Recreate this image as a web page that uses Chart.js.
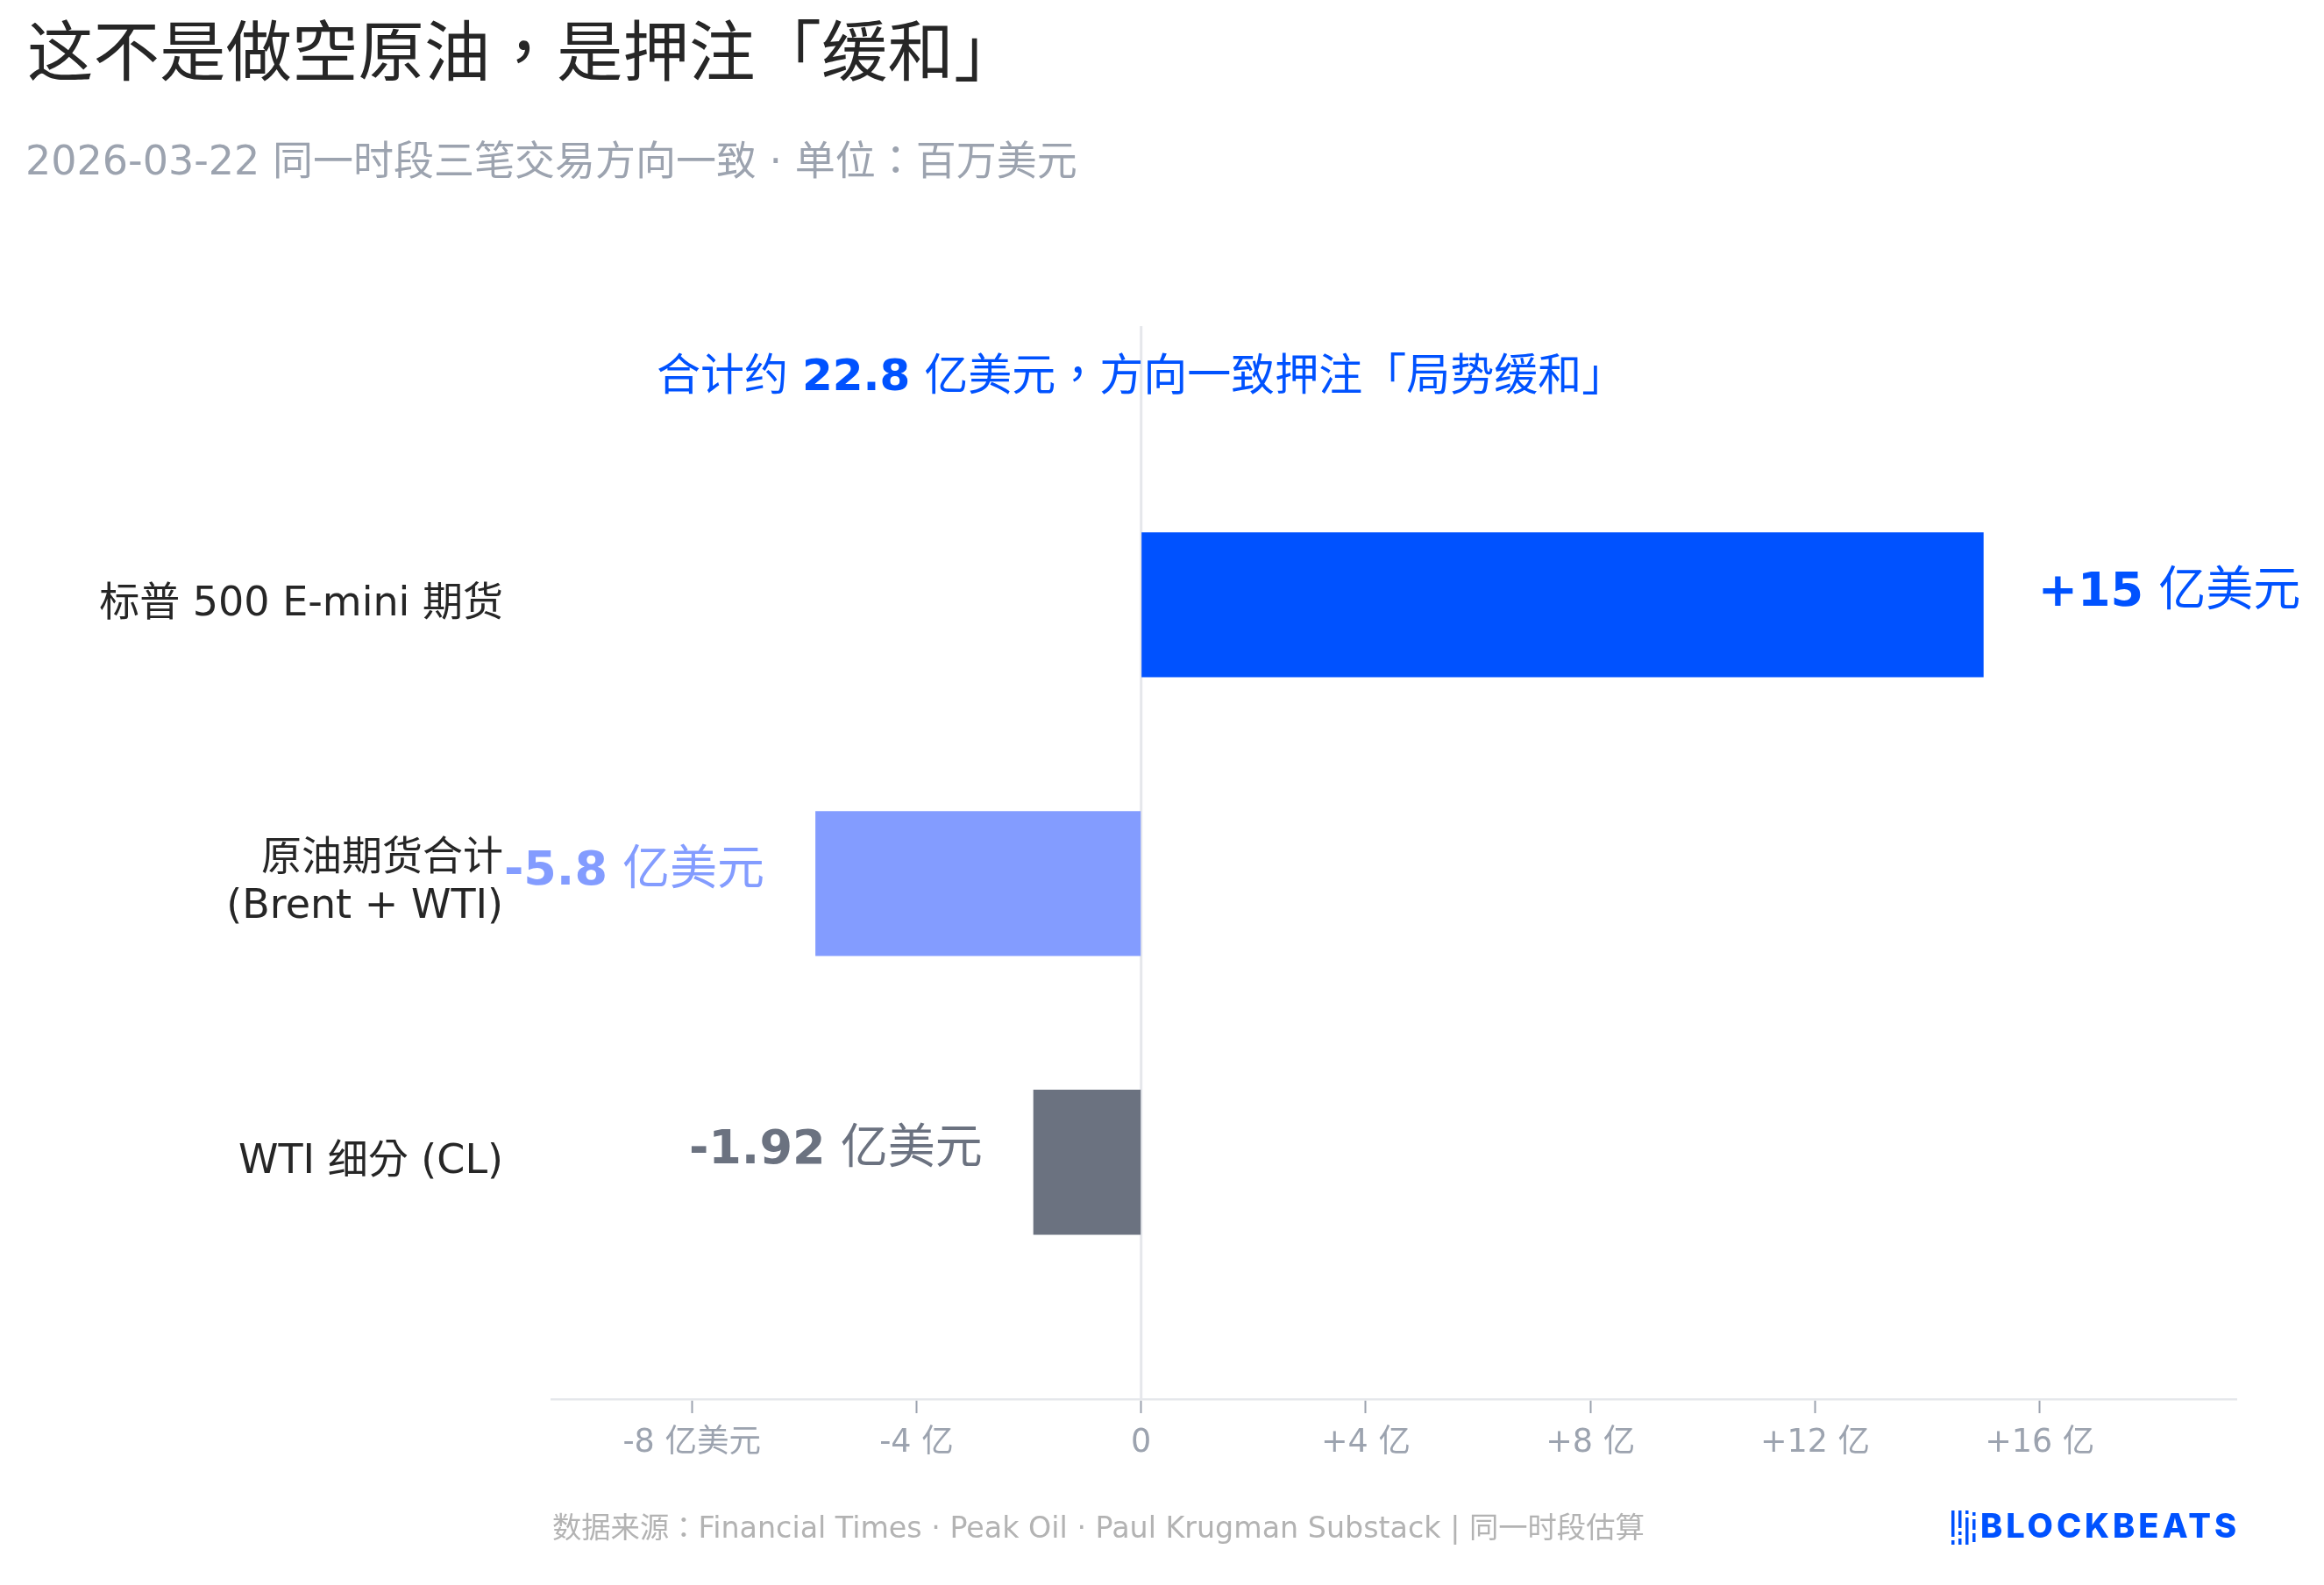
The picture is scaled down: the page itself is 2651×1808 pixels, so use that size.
<!DOCTYPE html>
<html>
<head>
<meta charset="utf-8">
<title>这不是做空原油，是押注「缓和」</title>
<script src="https://cdn.jsdelivr.net/npm/chart.js@4.4.1/dist/chart.umd.min.js"></script>
<style>
  html, body { margin: 0; padding: 0; background: #ffffff; }
  canvas { display: block; }
</style>
</head>
<body>
<canvas id="chart" width="2651" height="1808"></canvas>
<script>
  // 数据：三笔交易（单位：亿美元）
  const categories = [
    '标普 500 E-mini 期货',
    ['原油期货合计', '(Brent + WTI)'],
    'WTI 细分 (CL)',
  ];
  const categoryPos = [0, 1, 2];
  const values = [15, -5.8, -1.92];
  const xTicks = [-8, -4, 0, 4, 8, 12, 16];
  const xTickLabels = ['-8 亿美元', '-4 亿', '0', '+4 亿', '+8 亿', '+12 亿', '+16 亿'];

  const barColors = ['#0052ff', '#839cff', '#6b7280'];

  const FONT = '"DejaVu Sans", "Noto Sans CJK TC", sans-serif';
  const BLUE = '#0052ff';
  const GRAY = '#9ca3af';

  const titleText = '这不是做空原油，是押注「缓和」';
  const subText = '2026-03-22 同一时段三笔交易方向一致 · 单位：百万美元';
  const noteParts = [['合计约 ', false], ['22.8', true], [' 亿美元，方向一致押注「局势缓和」', false]];
  const footText = '数据来源：Financial Times · Peak Oil · Paul Krugman Substack | 同一时段估算';

  // 零线
  const zeroLine = {
    id: 'zeroLine',
    beforeDatasetsDraw(chart) {
      const { ctx, chartArea, scales } = chart;
      const x = scales.x.getPixelForValue(0);
      ctx.save();
      ctx.strokeStyle = '#e5e7eb';
      ctx.lineWidth = 3;
      ctx.beginPath();
      ctx.moveTo(x, chartArea.top);
      ctx.lineTo(x, chartArea.bottom);
      ctx.stroke();
      ctx.restore();
    },
  };

  function drawParts(ctx, parts, x, y, size) {
    parts.forEach(([t, bold]) => {
      ctx.font = (bold ? 'bold ' : '') + size + 'px ' + FONT;
      ctx.fillText(t, x, y);
      x += ctx.measureText(t).width;
    });
  }

  function partsWidth(ctx, parts, size) {
    return parts.reduce((w, [t, bold]) => {
      ctx.font = (bold ? 'bold ' : '') + size + 'px ' + FONT;
      return w + ctx.measureText(t).width;
    }, 0);
  }

  // 数值标注 + 合计说明
  const labels = {
    id: 'labels',
    afterDatasetsDraw(chart) {
      const { ctx, scales } = chart;
      const meta = chart.getDatasetMeta(0);
      ctx.save();
      ctx.textAlign = 'left';
      ctx.textBaseline = 'middle';
      meta.data.forEach((bar, i) => {
        const v = values[i];
        const parts = [[(v > 0 ? '+' : '') + v, true], [' 亿美元', false]];
        const w = partsWidth(ctx, parts, 54);
        const x = v >= 0 ? bar.x + 62 : bar.x - 58 - w;
        ctx.fillStyle = barColors[i];
        drawParts(ctx, parts, x, bar.y - 13, 54);
      });

      const w = partsWidth(ctx, noteParts, 50);
      ctx.fillStyle = BLUE;
      drawParts(ctx, noteParts, scales.x.getPixelForValue(0) - w / 2, scales.y.getPixelForValue(-0.81), 50);
      ctx.restore();
    },
  };

  // 标题、副标题、来源、logo
  const frame = {
    id: 'frame',
    afterDraw(chart) {
      const { ctx, chartArea } = chart;
      ctx.save();
      ctx.textBaseline = 'middle';
      ctx.textAlign = 'left';
      ctx.fillStyle = '#262626';
      ctx.font = '75.5px ' + FONT;
      ctx.fillText(titleText, 31, 66);
      ctx.fillStyle = GRAY;
      ctx.font = '46px ' + FONT;
      ctx.fillText(subText, 29, 187);
      ctx.fillStyle = '#b3b3b3';
      ctx.font = '33.3px ' + FONT;
      ctx.fillText(footText, chartArea.left + 1, 1745);

      // BLOCKBEATS logo
      const right = chartArea.right;
      ctx.fillStyle = BLUE;
      ctx.font = '800 38px Inter, "DejaVu Sans", sans-serif';
      const word = 'BLOCKBEATS';
      const raw = ctx.measureText(word).width;
      const target = 292;
      ctx.letterSpacing = ((target - raw) / (word.length - 1)).toFixed(2) + 'px';
      ctx.textAlign = 'right';
      ctx.fillText(word, right + (target - raw) / (word.length - 1), 1743);
      ctx.letterSpacing = '0px';
      const ix = right - target - 33;
      const segs = [
        [0, 0, 30], [0, 34, 39],
        [8, 0, 20], [8, 24, 28], [8, 32, 39],
        [16, 0, 4], [16, 8, 39],
        [24, 2, 6], [24, 10, 22], [24, 26, 36],
      ];
      segs.forEach(([dx, a, b]) => ctx.fillRect(ix + dx, 1723 + a, 3.5, b - a));
      ctx.restore();
    },
  };

  new Chart(document.getElementById('chart'), {
    type: 'bar',
    data: {
      datasets: [{
        data: values.map((v, i) => ({ x: v, y: categoryPos[i] })),
        backgroundColor: barColors,
        borderWidth: 0,
        barPercentage: 0.52,
        categoryPercentage: 1,
      }],
    },
    options: {
      indexAxis: 'y',
      responsive: false,
      devicePixelRatio: 1,
      animation: false,
      events: [],
      layout: { padding: { top: 372, right: 100, bottom: 0, left: 0 } },
      plugins: { legend: { display: false }, tooltip: { enabled: false }, title: { display: false } },
      scales: {
        x: {
          type: 'linear',
          min: -10.5,
          max: 19.5,
          afterBuildTicks: (s) => { s.ticks = xTicks.map((v) => ({ value: v })); },
          afterFit: (s) => { s.height = 212; },
          border: { display: true, color: '#e5e7eb', width: 2.5 },
          grid: { drawOnChartArea: false, drawTicks: true, tickLength: 16, tickColor: GRAY, tickWidth: 2 },
          ticks: {
            autoSkip: false,
            maxRotation: 0,
            padding: 13,
            color: GRAY,
            font: { family: FONT, size: 36.5 },
            callback: (v) => xTickLabels[xTicks.indexOf(v)],
          },
        },
        y: {
          type: 'linear',
          min: -1,
          max: 2.85,
          reverse: true,
          offset: false,
          afterBuildTicks: (s) => { s.ticks = categoryPos.map((v) => ({ value: v })); },
          afterFit: (s) => { s.width = 629; },
          border: { display: false },
          grid: { display: false },
          ticks: {
            autoSkip: false,
            padding: 47,
            color: '#262626',
            font: { family: FONT, size: 46, lineHeight: 1.2 },
            callback: (v) => categories[categoryPos.indexOf(v)],
          },
        },
      },
    },
    plugins: [zeroLine, labels, frame],
  });
</script>
</body>
</html>
